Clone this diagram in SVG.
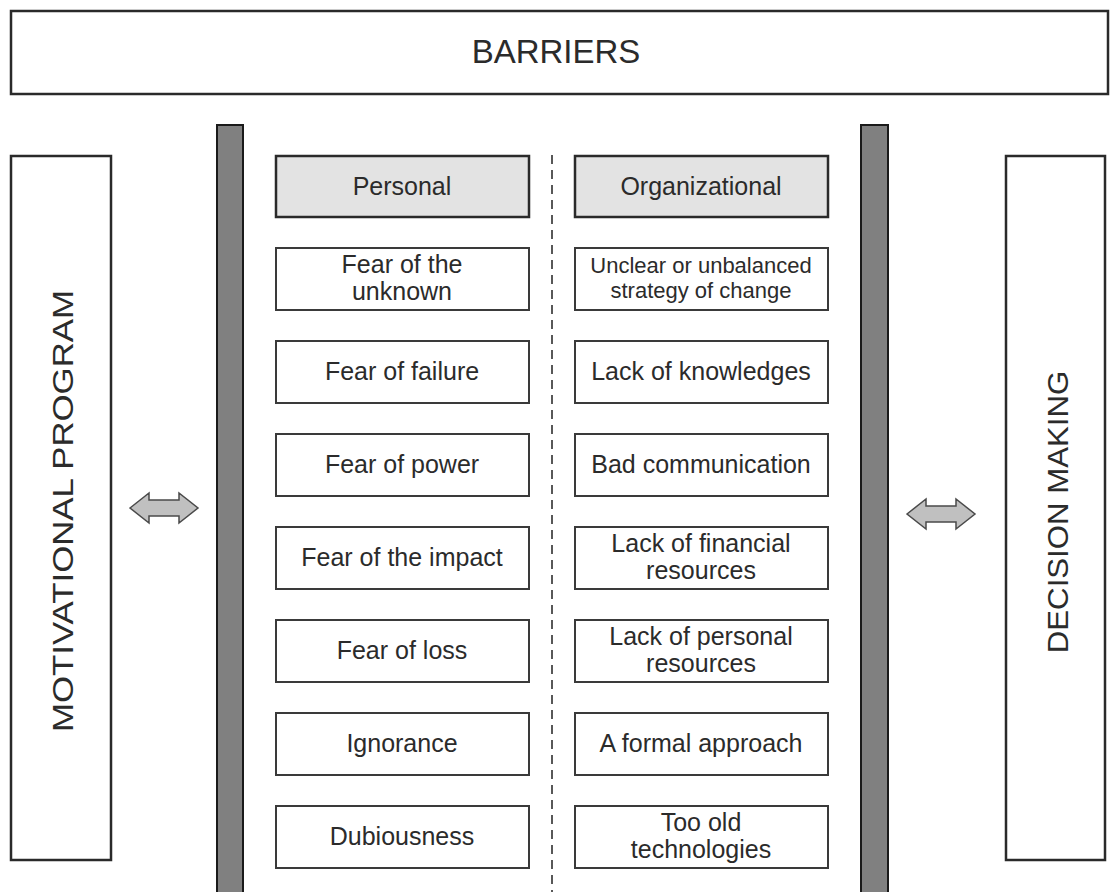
<svg xmlns="http://www.w3.org/2000/svg" width="1110" height="892" viewBox="0 0 1110 892">
  <style>
    .box { fill: #ffffff; stroke: #3a3a3a; stroke-width: 2; }
    .head { fill: #e3e3e3; stroke: #2a2a2a; stroke-width: 2.5; }
    .frame { fill: #ffffff; stroke: #2a2a2a; stroke-width: 2.5; }
    .bar { fill: #808080; stroke: #1a1a1a; stroke-width: 2; }
    .arrow { fill: #c0c0c0; stroke: #4a4a4a; stroke-width: 1.5; }
    .divider { stroke: #222; stroke-width: 1.5; stroke-dasharray: 9 6; fill: none; }
    text { font-family: "Liberation Sans", Arial, sans-serif; fill: #2b2b2b; text-anchor: middle; }
    .t { font-size: 25px; }
    .ts { font-size: 22px; }
    .big { font-size: 33px; }
    .side { font-size: 30px; }
  </style>

  <!-- title band -->
  <g id="barriers">
    <rect class="frame" x="11" y="11" width="1097" height="83"/>
    <text class="big" x="556" y="63">BARRIERS</text>
  </g>

  <!-- side panels -->
  <g id="motivational-program">
    <rect class="frame" x="11" y="156" width="100" height="704"/>
    <text class="side" transform="translate(73 511) rotate(-90) scale(1.16 1)">MOTIVATIONAL PROGRAM</text>
  </g>
  <g id="decision-making">
    <rect class="frame" x="1006" y="156" width="99" height="704"/>
    <text class="side" transform="translate(1068 512) rotate(-90) scale(1.04 1)">DECISION MAKING</text>
  </g>

  <!-- vertical bars -->
  <g id="left-bar"><rect class="bar" x="217" y="125" width="26" height="780"/></g>
  <g id="right-bar"><rect class="bar" x="861" y="125" width="27" height="780"/></g>

  <!-- connectors -->
  <g id="connectors">
    <line class="divider" x1="552" y1="155" x2="552" y2="892"/>
    <path class="arrow" d="M130 508 L149 493 L149 500 L179 500 L179 493 L198 508 L179 523 L179 516 L149 516 L149 523 Z"/>
    <path class="arrow" d="M907 514 L926 499 L926 506 L956 506 L956 499 L975 514 L956 529 L956 522 L926 522 L926 529 Z"/>
  </g>

  <!-- column headers -->
  <g id="personal">
    <rect class="head" x="276" y="156" width="253" height="61"/>
    <text class="t" x="402" y="195">Personal</text>
  </g>
  <g id="organizational">
    <rect class="head" x="575" y="156" width="253" height="61"/>
    <text class="t" x="701" y="195">Organizational</text>
  </g>

  <!-- personal barriers -->
  <g id="p1"><rect class="box" x="276" y="248" width="253" height="62"/>
    <text class="t" x="402" y="273">Fear of the</text><text class="t" x="402" y="300">unknown</text></g>
  <g id="p2"><rect class="box" x="276" y="341" width="253" height="62"/>
    <text class="t" x="402" y="380">Fear of failure</text></g>
  <g id="p3"><rect class="box" x="276" y="434" width="253" height="62"/>
    <text class="t" x="402" y="473">Fear of power</text></g>
  <g id="p4"><rect class="box" x="276" y="527" width="253" height="62"/>
    <text class="t" x="402" y="566">Fear of the impact</text></g>
  <g id="p5"><rect class="box" x="276" y="620" width="253" height="62"/>
    <text class="t" x="402" y="659">Fear of loss</text></g>
  <g id="p6"><rect class="box" x="276" y="713" width="253" height="62"/>
    <text class="t" x="402" y="752">Ignorance</text></g>
  <g id="p7"><rect class="box" x="276" y="806" width="253" height="62"/>
    <text class="t" x="402" y="845">Dubiousness</text></g>

  <!-- organizational barriers -->
  <g id="o1"><rect class="box" x="575" y="248" width="253" height="62"/>
    <text class="ts" x="701" y="273">Unclear or unbalanced</text><text class="ts" x="701" y="298">strategy of change</text></g>
  <g id="o2"><rect class="box" x="575" y="341" width="253" height="62"/>
    <text class="t" x="701" y="380">Lack of knowledges</text></g>
  <g id="o3"><rect class="box" x="575" y="434" width="253" height="62"/>
    <text class="t" x="701" y="473">Bad communication</text></g>
  <g id="o4"><rect class="box" x="575" y="527" width="253" height="62"/>
    <text class="t" x="701" y="552">Lack of financial</text><text class="t" x="701" y="579">resources</text></g>
  <g id="o5"><rect class="box" x="575" y="620" width="253" height="62"/>
    <text class="t" x="701" y="645">Lack of personal</text><text class="t" x="701" y="672">resources</text></g>
  <g id="o6"><rect class="box" x="575" y="713" width="253" height="62"/>
    <text class="t" x="701" y="752">A formal approach</text></g>
  <g id="o7"><rect class="box" x="575" y="806" width="253" height="62"/>
    <text class="t" x="701" y="831">Too old</text><text class="t" x="701" y="858">technologies</text></g>
</svg>
